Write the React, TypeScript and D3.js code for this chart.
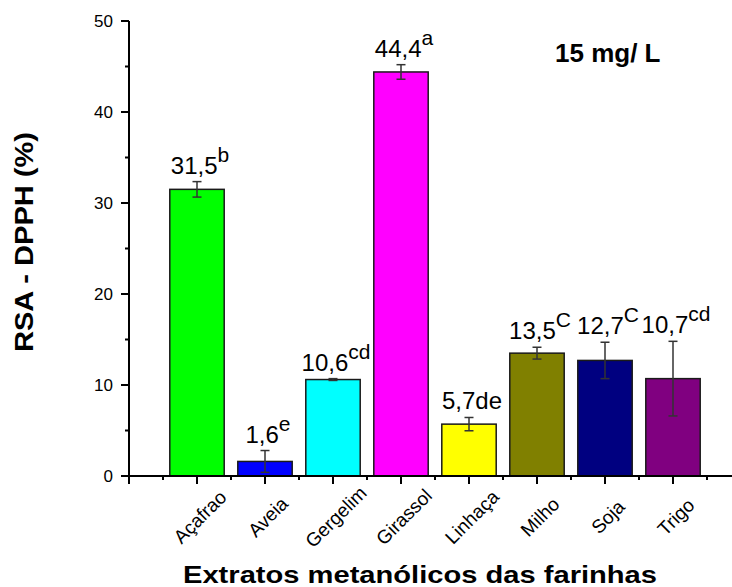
import React from "react";
import * as d3 from "d3";

const categories = ["Açafrao", "Aveia", "Gergelim", "Girassol", "Linhaça", "Milho", "Soja", "Trigo"];
const values = [31.5, 1.6, 10.6, 44.4, 5.7, 13.5, 12.7, 10.7];
const errors = [0.85, 1.2, 0.1, 0.8, 0.73, 0.65, 2.0, 4.1];
const letters = ["b", "e", "cd", "a", "de", "C", "C", "cd"];
const superscript = [true, true, true, true, false, true, true, true];
const colors = ["#00FF00", "#0000FF", "#00FFFF", "#FF00FF", "#FFFF00", "#808000", "#000080", "#800080"];
const yTicks = [0, 10, 20, 30, 40, 50];
const yMinorTicks = [5, 15, 25, 35, 45];

const W = 732;
const H = 587;

export default function App() {
  const x = d3.scaleLinear().domain([0, 9]).range([129, 741]);
  const y = d3.scaleLinear().domain([0, 50]).range([476, 21]);
  const barHalf = 0.4;
  const fmt = (v: number) => d3.format(".1f")(v).replace(".", ",");
  const majorX = d3.range(0, 10);
  const minorX = d3.range(0, 9).map((d) => d + 0.5);
  const font = "Arial, 'Liberation Sans', sans-serif";

  return (
    <svg width={W} height={H} style={{ position: "absolute", left: 0, top: 0, background: "#fff" }} fontFamily={font}>
      <defs>
        <clipPath id="lblclip">
          <rect x={0} y={0} width={W} height={546} />
        </clipPath>
      </defs>
      <rect x={0} y={0} width={W} height={H} fill="#fff" />
      {/* bars */}
      {values.map((v, i) => (
        <rect
          key={"b" + i}
          x={x(i + 1 - barHalf)}
          y={y(v)}
          width={x(i + 1 + barHalf) - x(i + 1 - barHalf)}
          height={y(0) - y(v)}
          fill={colors[i]}
          stroke="#1a1a1a"
          strokeWidth={1.5}
        />
      ))}
      {/* error bars */}
      {values.map((v, i) => {
        const cx = x(i + 1);
        const t = y(v + errors[i]);
        const b = y(v - errors[i]);
        return (
          <g key={"e" + i} stroke="#333" strokeWidth={1.5}>
            <line x1={cx} x2={cx} y1={t} y2={b} />
            <line x1={cx - 4.5} x2={cx + 4.5} y1={t} y2={t} />
            <line x1={cx - 4.5} x2={cx + 4.5} y1={b} y2={b} />
          </g>
        );
      })}
      {/* value labels */}
      {values.map((v, i) => (
        <text key={"v" + i} x={x(i + 1) + 3} y={y(v + errors[i]) - 8} textAnchor="middle" fontSize={24} fill="#000">
          <tspan>{fmt(v)}</tspan>
          {superscript[i] ? (
            <tspan dy={-12} fontSize={21}>{letters[i]}</tspan>
          ) : (
            <tspan>{letters[i]}</tspan>
          )}
        </text>
      ))}
      {/* y axis */}
      <line x1={129} x2={129} y1={y(50)} y2={y(0)} stroke="#000" strokeWidth={2} />
      {yTicks.map((t) => (
        <g key={"yt" + t}>
          <line x1={121} x2={129} y1={y(t)} y2={y(t)} stroke="#000" strokeWidth={2} />
          <text x={113} y={y(t)} textAnchor="end" dominantBaseline="central" fontSize={17}>{t}</text>
        </g>
      ))}
      {yMinorTicks.map((t) => (
        <line key={"ym" + t} x1={125} x2={129} y1={y(t)} y2={y(t)} stroke="#000" strokeWidth={2} />
      ))}
      {/* x axis */}
      <line x1={128} x2={741} y1={y(0)} y2={y(0)} stroke="#000" strokeWidth={2} />
      {majorX.map((p) => (
        <line key={"xt" + p} x1={x(p)} x2={x(p)} y1={y(0)} y2={y(0) + 8} stroke="#000" strokeWidth={2} />
      ))}
      {minorX.map((p) => (
        <line key={"xm" + p} x1={x(p)} x2={x(p)} y1={y(0)} y2={y(0) + 4} stroke="#000" strokeWidth={2} />
      ))}
      <g clipPath="url(#lblclip)">
        {categories.map((c, i) => (
          <text
            key={"xl" + i}
            transform={`translate(${x(i + 1) + 3},517) rotate(-45)`}
            textAnchor="middle"
            dominantBaseline="central"
            fontSize={19}
          >
            {c}
          </text>
        ))}
      </g>
      {/* titles */}
      <text
        transform="translate(33,242) rotate(-90)"
        textAnchor="middle"
        fontSize={26}
        fontWeight="bold"
        textLength={220}
        lengthAdjust="spacingAndGlyphs"
      >
        RSA - DPPH (%)
      </text>
      <text x={420} y={583} textAnchor="middle" fontSize={24} fontWeight="bold" textLength={474} lengthAdjust="spacingAndGlyphs">
        Extratos metanólicos das farinhas
      </text>
      <text x={555} y={62} fontSize={26} fontWeight="bold">15 mg/ L</text>
    </svg>
  );
}
